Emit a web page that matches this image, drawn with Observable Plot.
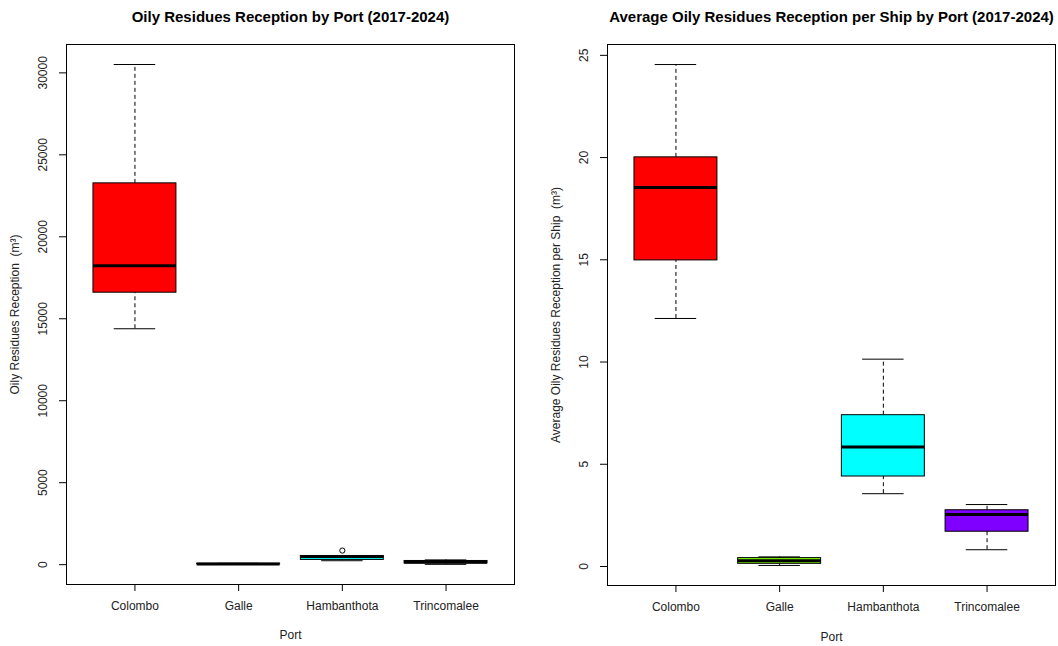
<!DOCTYPE html>
<html>
<head>
<meta charset="utf-8">
<script src="https://cdn.jsdelivr.net/npm/d3@7"></script>
<script src="https://cdn.jsdelivr.net/npm/@observablehq/plot@0.6"></script>
<style>
  html, body { margin: 0; padding: 0; background: #fff; }
  #wrap { position: relative; width: 1058px; height: 646px; overflow: hidden; }
  #left, #right { position: absolute; top: 0; }
  #left { left: 0; }
  #right { left: 529px; }
</style>
</head>
<body>
<div id="wrap"><div id="left"></div><div id="right"></div></div>
<script>
// ---- Data ----
const ports = ["Colombo", "Galle", "Hambanthota", "Trincomalee"];
const portColors = ["#FF0000", "#80FF00", "#00FFFF", "#8000FF"];

// Total oily residues reception (m³): box statistics per port
const totalLo  = [14390, 10, 240, 20];
const totalQ1  = [16590, 25, 290, 80];
const totalMed = [18240, 40, 500, 150];
const totalQ3  = [23260, 55, 530, 225];
const totalHi  = [30510, 80, 545, 290];
const totalOutlierPorts  = ["Hambanthota"];
const totalOutlierValues = [860];
const totalTicks = [0, 5000, 10000, 15000, 20000, 25000, 30000];

// Average oily residues reception per ship (m³)
const perShipLo  = [12.13, 0.05, 3.56, 0.82];
const perShipQ1  = [14.97, 0.13, 4.40, 1.70];
const perShipMed = [18.54, 0.28, 5.84, 2.54];
const perShipQ3  = [20.01, 0.41, 7.40, 2.75];
const perShipHi  = [24.55, 0.47, 10.14, 3.03];
const perShipOutlierPorts  = [];
const perShipOutlierValues = [];
const perShipTicks = [0, 5, 10, 15, 20, 25];

const FONT = "'Liberation Sans', Arial, Helvetica, sans-serif";

function panel(cfg) {
  const rows = ports.map((p, i) => ({
    port: p, pos: i + 1, color: portColors[i],
    lo: cfg.lo[i], q1: cfg.q1[i], med: cfg.med[i], q3: cfg.q3[i], hi: cfg.hi[i]
  }));
  const outliers = cfg.outPorts.map((p, i) => ({pos: ports.indexOf(p) + 1, value: cfg.outValues[i]}));
  const all = [...cfg.lo, ...cfg.hi, ...cfg.outValues];
  const [mn, mx] = d3.extent(all);
  const pad = 0.04 * (mx - mn);
  const n = ports.length;
  const xpad = 0.04 * n;
  const bw = 0.4, cw = 0.2;
  return Plot.plot({
    width: cfg.width,
    height: 646,
    marginLeft: cfg.marginLeft,
    marginRight: cfg.marginRight,
    marginTop: cfg.marginTop,
    marginBottom: cfg.marginBottom,
    style: {fontFamily: FONT, fontSize: "12px", color: "#000", background: "#fff", overflow: "visible"},
    x: {domain: [0.5 - xpad, n + 0.5 + xpad], ticks: rows.map(d => d.pos), tickSize: 7, tickFormat: () => "", label: null, line: false},
    y: {domain: [mn - pad, mx + pad], ticks: cfg.ticks, tickSize: 7, tickFormat: () => "", label: null, line: false},
    marks: [
      // whiskers (dashed)
      Plot.ruleX(rows, {x: "pos", y1: "q3", y2: "hi", stroke: "#000", strokeDasharray: "4,3", strokeWidth: 1}),
      Plot.ruleX(rows, {x: "pos", y1: "lo", y2: "q1", stroke: "#000", strokeDasharray: "4,3", strokeWidth: 1}),
      // caps
      Plot.ruleY(rows, {y: "hi", x1: d => d.pos - cw, x2: d => d.pos + cw, stroke: "#000", strokeWidth: 1}),
      Plot.ruleY(rows, {y: "lo", x1: d => d.pos - cw, x2: d => d.pos + cw, stroke: "#000", strokeWidth: 1}),
      // boxes
      Plot.rect(rows, {x1: d => d.pos - bw, x2: d => d.pos + bw, y1: "q1", y2: "q3", fill: "color", stroke: "#000", strokeWidth: 1}),
      // medians
      Plot.ruleY(rows, {y: "med", x1: d => d.pos - bw, x2: d => d.pos + bw, stroke: "#000", strokeWidth: 3}),
      // outliers
      Plot.dot(outliers, {x: "pos", y: "value", r: 2.6, stroke: "#000", fill: "none", strokeWidth: 1}),
      // frame
      Plot.frame({stroke: "#000", strokeWidth: 1}),
      // y tick labels
      Plot.text(cfg.ticks, {y: d => d, text: d => String(d), frameAnchor: "left", rotate: -90,
        textAnchor: "middle", lineAnchor: "bottom", dx: -20, fill: "#222", fontSize: 12}),
      // x tick labels
      Plot.text(rows, {x: "pos", text: "port", frameAnchor: "bottom", lineAnchor: "middle", dy: 22, fill: "#222", fontSize: 12}),
      // axis titles
      Plot.text([cfg.xLabel], {text: d => d, frameAnchor: "bottom", lineAnchor: "middle", dy: cfg.xLabelDy, fill: "#222", fontSize: 12}),
      Plot.text([cfg.yLabel], {text: d => d, frameAnchor: "left", rotate: -90, textAnchor: "middle", lineAnchor: "middle", dx: -51, fill: "#222", fontSize: 12}),
      // title
      Plot.text([cfg.title], {text: d => d, frameAnchor: "top", lineAnchor: "middle", dy: -27, fontWeight: "bold", fontSize: 15, fill: "#000"})
    ]
  });
}

document.getElementById("left").appendChild(panel({
  lo: totalLo, q1: totalQ1, med: totalMed, q3: totalQ3, hi: totalHi,
  outPorts: totalOutlierPorts, outValues: totalOutlierValues, ticks: totalTicks,
  width: 529, marginLeft: 66, marginRight: 15, marginTop: 44, marginBottom: 62,
  title: "Oily Residues Reception by Port (2017-2024)",
  yLabel: "Oily Residues Reception  (m³)", xLabel: "Port", xLabelDy: 51
}));

document.getElementById("right").appendChild(panel({
  lo: perShipLo, q1: perShipQ1, med: perShipMed, q3: perShipQ3, hi: perShipHi,
  outPorts: perShipOutlierPorts, outValues: perShipOutlierValues, ticks: perShipTicks,
  width: 529, marginLeft: 78, marginRight: 3, marginTop: 44, marginBottom: 61,
  title: "Average Oily Residues Reception per Ship by Port (2017-2024)",
  yLabel: "Average Oily Residues Reception per Ship  (m³)", xLabel: "Port", xLabelDy: 52
}));
</script>
</body>
</html>
